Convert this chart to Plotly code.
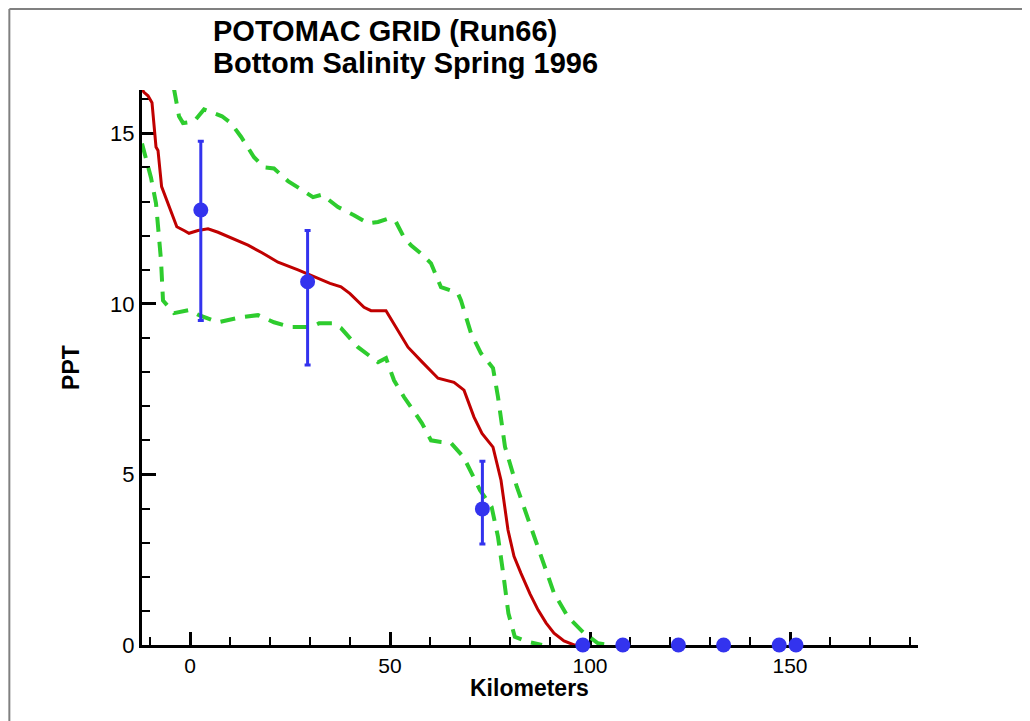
import plotly.graph_objects as go

# ---- data ----
model_km = [-12, -11.5, -10.5, -9.5, -8.5, -8, -7.1, -3.3, -1.5, -0.25, 2, 4.5, 7, 10,
            14.5, 18, 22, 27, 31, 35, 37.75, 40, 43.5, 45.25, 49, 51, 54.5, 58, 62,
            66, 68.5, 71, 73, 75.75, 77.75, 79.5, 81, 82.75, 85, 87, 89, 91, 93.5,
            96, 98, 100]
model_ppt = [16.3, 16.2, 16.1, 15.9, 14.6, 14.5, 13.44, 12.26, 12.15, 12.07, 12.15,
             12.2, 12.1, 11.95, 11.72, 11.5, 11.22, 11.0, 10.8, 10.6, 10.5, 10.3,
             9.9, 9.8, 9.8, 9.4, 8.73, 8.3, 7.82, 7.7, 7.47, 6.68, 6.2, 5.8, 4.83,
             3.37, 2.6, 2.1, 1.5, 1.03, 0.65, 0.35, 0.12, 0.0, 0.0, 0.0]

upper_km = [-4, -2.75, -1.75, 1, 3.5, 6, 8, 10.25, 12.75, 16, 18.5, 21, 24.5, 28.5,
            30.75, 33, 37, 41, 44.5, 47, 49.5, 51.5, 53.5, 55.25, 58, 60.25, 62.75,
            65, 67, 67.75, 70.25, 72.75, 75.75, 77, 78.75, 81.7, 86.5, 91, 94.5,
            98.5, 100.25, 102, 105]
upper_ppt = [16.3, 15.5, 15.3, 15.35, 15.7, 15.6, 15.5, 15.3, 14.9, 14.3, 14.0, 13.97,
             13.6, 13.3, 13.13, 13.2, 12.84, 12.6, 12.36, 12.4, 12.5, 12.4, 11.95,
             11.72, 11.45, 11.19, 10.49, 10.4, 10.3, 10.1, 9.14, 8.55, 8.12, 7.27,
             5.81, 4.64, 2.99, 1.52, 0.82, 0.35, 0.2, 0.05, 0.0]

lower_km = [-12, -11.5, -9.75, -8.5, -7.25, -6.75, -4, -0.25, 2.25, 7, 12.75, 17, 21,
            25.25, 30.25, 32.25, 36, 37.75, 42, 47, 49, 51, 53.5, 58, 60.25, 62.75,
            65.25, 68.4, 72.5, 75.4, 77, 78.3, 79.6, 81.2, 84.2, 88]
lower_ppt = [14.7, 14.5, 13.7, 12.95, 11.28, 10.1, 9.73, 9.82, 9.67, 9.46, 9.61, 9.67,
             9.46, 9.32, 9.32, 9.43, 9.43, 9.29, 8.73, 8.29, 8.41, 7.76, 7.27, 6.5,
             6.0, 5.95, 5.92, 5.51, 4.54, 4.05, 3.17, 2.1, 0.93, 0.24, 0.1, 0.0]

obs_km = [2.7, 29.4, 73.1, 98.2, 108.2, 122.1, 133.4, 147.3, 151.5]
obs_ppt = [12.75, 10.65, 3.99, 0, 0, 0, 0, 0, 0]
obs_err_plus = [2.02, 1.5, 1.4, 0, 0, 0, 0, 0, 0]
obs_err_minus = [3.24, 2.44, 1.03, 0, 0, 0, 0, 0, 0]

title_lines = ["POTOMAC GRID (Run66)", "Bottom Salinity Spring 1996"]
x_title = "Kilometers"
y_title = "PPT"
x_ticks = [0, 50, 100, 150]
y_ticks = [0, 5, 10, 15]

RED = "#c00000"
GREEN = "#2ecc2e"
BLUE = "#3333ee"

fig = go.Figure()
fig.add_trace(go.Scatter(x=upper_km, y=upper_ppt, mode="lines",
                         line=dict(color=GREEN, width=4, dash="15px,10px"),
                         showlegend=False))
fig.add_trace(go.Scatter(x=lower_km, y=lower_ppt, mode="lines",
                         line=dict(color=GREEN, width=4, dash="15px,10px"),
                         showlegend=False))
fig.add_trace(go.Scatter(x=model_km, y=model_ppt, mode="lines",
                         line=dict(color=RED, width=3), showlegend=False))
fig.add_trace(go.Scatter(x=obs_km, y=obs_ppt, mode="markers",
                         marker=dict(color=BLUE, size=15),
                         error_y=dict(type="data", symmetric=False,
                                      array=obs_err_plus, arrayminus=obs_err_minus,
                                      color=BLUE, thickness=3, width=3),
                         cliponaxis=False, showlegend=False))

# page is shown with an 8px body offset; positions below are in screen pixels
OFF = 8
W, H = 1022, 713
PL, PR, PT, PB = 141.7, 918.0, 90.0, 645.0   # plot box in screen pixels
L, R, T, B = PL - OFF, W - (PR - OFF), PT - OFF, H - (PB - OFF)
pw, ph = PR - PL, PB - PT

def px_x(p):
    return (p - PL) / pw

def px_y(p):
    return (PB - p) / ph

fig.update_layout(
    width=W, height=H,
    margin=dict(l=L, r=R, t=T, b=B, pad=0),
    paper_bgcolor="white", plot_bgcolor="white",
    font=dict(family="Liberation Sans, Arial, sans-serif", color="black"),
    xaxis=dict(range=[-12, 182], showgrid=False, zeroline=False,
               showline=True, linecolor="black", linewidth=3,
               ticks="inside", ticklen=13, tickwidth=3, tickcolor="black",
               tickvals=x_ticks, ticktext=[str(v) for v in x_ticks],
               tickfont=dict(size=21), layer="below traces",
               minor=dict(dtick=10, tick0=0, ticks="inside", ticklen=8,
                          tickwidth=1.5, tickcolor="black", showgrid=False)),
    yaxis=dict(range=[0, 16.27], showgrid=False, zeroline=False,
               showline=True, linecolor="black", linewidth=3,
               ticks="inside", ticklen=14, tickwidth=3, tickcolor="black",
               tickvals=y_ticks, ticktext=[str(v) for v in y_ticks],
               tickfont=dict(size=22), layer="below traces",
               minor=dict(dtick=1, tick0=0, ticks="inside", ticklen=8,
                          tickwidth=1.5, tickcolor="black", showgrid=False),
               title=dict(text="<b>%s</b>" % y_title, font=dict(size=23), standoff=25)),
)

fig.add_annotation(text="<b>%s</b>" % x_title, xref="paper", yref="paper",
                   x=px_x(529), y=px_y(688), xanchor="center", yanchor="middle",
                   showarrow=False, font=dict(size=23))

fig.add_annotation(text="<b>%s</b>" % title_lines[0], xref="paper", yref="paper",
                   x=px_x(211), y=px_y(31.5), xanchor="left", yanchor="middle",
                   showarrow=False, font=dict(size=29))
fig.add_annotation(text="<b>%s</b>" % title_lines[1], xref="paper", yref="paper",
                   x=px_x(211), y=px_y(62.5), xanchor="left", yanchor="middle",
                   showarrow=False, font=dict(size=29))

# picture frame (left and top edges visible)
fig.add_shape(type="line", xref="paper", yref="paper",
              x0=px_x(9), x1=px_x(1040), y0=px_y(9), y1=px_y(9),
              line=dict(color="#808080", width=2))
fig.add_shape(type="line", xref="paper", yref="paper",
              x0=px_x(9), x1=px_x(9), y0=px_y(9), y1=px_y(740),
              line=dict(color="#808080", width=2))

fig.write_html("out.html")
